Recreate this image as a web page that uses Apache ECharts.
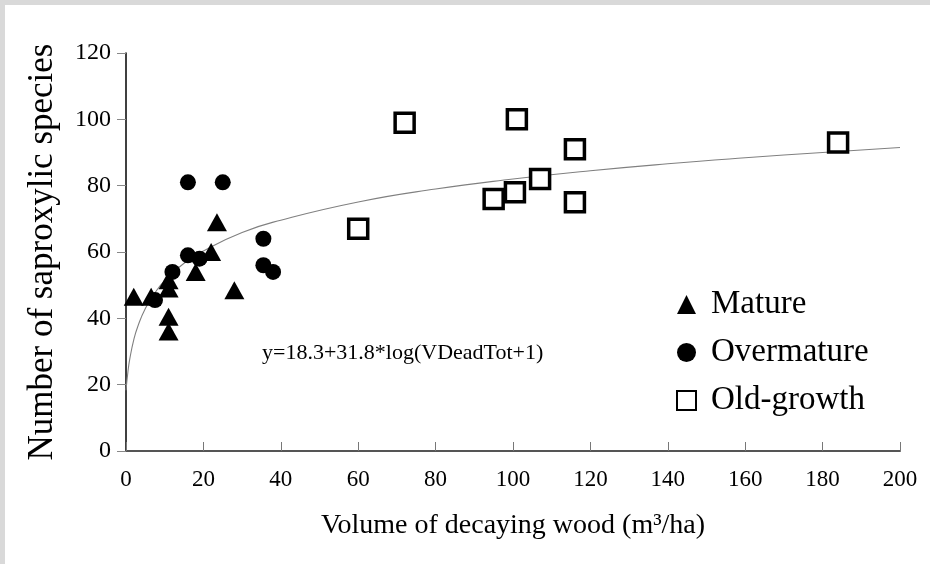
<!DOCTYPE html>
<html>
<head>
<meta charset="utf-8">
<script src="https://cdn.jsdelivr.net/npm/echarts@6/dist/echarts.min.js"></script>
<style>
html,body{margin:0;padding:0;background:#d9d9d9;width:930px;height:564px;overflow:hidden;}
#chart{position:absolute;left:5px;top:5px;width:925px;height:559px;background:#fff;}
</style>
</head>
<body>
<div id="chart"></div>
<script>
// Data: [volume of decaying wood (m3/ha), number of saproxylic species]
const mature = [[2,46.5],[6.5,46.5],[11,40.5],[11,36],[11,51.5],[11,49],[18,54],[22,60],[23.5,69],[28,48.5]];
const overmature = [[7.5,45.5],[12,54],[16,81],[25,81],[16,59],[19,58],[35.5,64],[35.5,56],[38,54]];
const oldGrowth = [[60,67],[72,99],[101,100],[116,91],[107,82],[100.5,78],[95,76],[116,75],[184,93]];
// Fitted curve
const curveX = [0,0.5,1,2,3,5,7.5,10,15,20,30,40,60,80,100,120,140,160,180,200];
const curveY = [18.3,23.9,27.9,33.5,37.4,43.0,47.7,51.4,56.6,60.3,65.9,69.6,75.1,79.0,82.0,84.5,86.6,88.4,90.0,91.5];
const xTicks = [0,20,40,60,80,100,120,140,160,180,200];
const yTicks = [0,20,40,60,80,100,120];
const equation = 'y=18.3+31.8*log(VDeadTot+1)';

const curve = curveX.map((x, i) => [x, curveY[i]]);
const serif = '"Liberation Serif", "DejaVu Serif", serif';

const chart = echarts.init(document.getElementById('chart'));
chart.setOption({
  animation: false,
  backgroundColor: '#fff',
  grid: { left: 121, right: 30, top: 48, bottom: 113, containLabel: false },
  xAxis: {
    type: 'value', min: xTicks[0], max: xTicks[xTicks.length-1], interval: 20,
    name: 'Volume of decaying wood (m³/ha)', nameLocation: 'middle', nameGap: 61,
    nameTextStyle: { fontFamily: serif, fontSize: 28, color: '#000' },
    axisLine: { lineStyle: { color: '#555', width: 2 } },
    axisTick: { show: true, inside: true, length: 9, lineStyle: { color: '#777', width: 1 } },
    axisLabel: { fontFamily: serif, fontSize: 23, color: '#000', margin: 17 },
    splitLine: { show: false }
  },
  yAxis: {
    type: 'value', min: yTicks[0], max: yTicks[yTicks.length-1], interval: 20,
    name: 'Number of saproxylic species', nameLocation: 'middle', nameGap: 66,
    nameTextStyle: { fontFamily: serif, fontSize: 35, color: '#000' },
    axisLine: { show: true, lineStyle: { color: '#000', width: 1.5 } },
    axisTick: { show: true, inside: false, length: 9, lineStyle: { color: '#888', width: 1 } },
    axisLabel: { fontFamily: serif, fontSize: 24, color: '#000', margin: 15 },
    splitLine: { show: false }
  },
  legend: {
    orient: 'vertical', left: 666, top: 278, itemWidth: 19, itemHeight: 19, itemGap: 15,
    data: ['Mature','Overmature','Old-growth'],
    textStyle: { fontFamily: serif, fontSize: 33, color: '#000', lineHeight: 32, padding: [0,0,0,10] }
  },
  graphic: [{
    type: 'text', left: 257, top: 337,
    style: { text: equation, font: '22px ' + serif, fill: '#000' }
  }],
  series: [
    { name: 'fit', type: 'line', data: curve, smooth: true, showSymbol: false, symbol: 'none',
      lineStyle: { color: '#808080', width: 1.1 }, z: 1, silent: true },
    { name: 'Mature', type: 'scatter', data: mature, symbol: 'triangle', symbolSize: [20, 18],
      itemStyle: { color: '#000', opacity: 1 }, z: 3 },
    { name: 'Overmature', type: 'scatter', data: overmature, symbol: 'circle', symbolSize: 16,
      itemStyle: { color: '#000', opacity: 1 }, z: 3 },
    { name: 'Old-growth', type: 'scatter', data: oldGrowth, symbol: 'rect', symbolSize: 19,
      itemStyle: { color: '#fff', borderColor: '#000', borderWidth: 3.5, opacity: 1 }, z: 3 }
  ]
});
</script>
</body>
</html>
